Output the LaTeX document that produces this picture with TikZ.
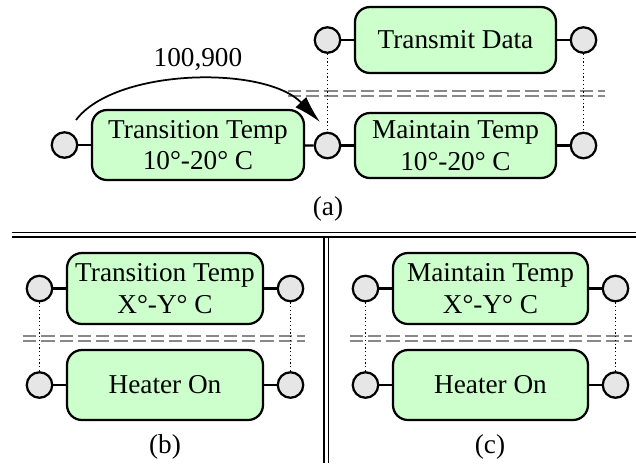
\documentclass[tikz,border=0pt]{standalone}
\usepackage{fontspec}
\setmainfont{Liberation Serif}
\usetikzlibrary{positioning, arrows.meta}
\definecolor{boxgreen}{HTML}{CCFFCC}
\definecolor{portgray}{HTML}{E6E6E6}
\definecolor{splitgray}{HTML}{888888}

\begin{document}
\begin{tikzpicture}[x=0.4pt,y=-0.4pt,node distance=5pt,
    font=\fontsize{10.9}{12.6}\selectfont,
    box/.style={draw, line width=0.9pt, fill=boxgreen, rounded corners=6pt, align=center,
      minimum width=80.4pt, minimum height=26.4pt, inner sep=2pt},
    port/.style={draw, line width=0.9pt, fill=portgray, circle, minimum size=10.2pt, inner sep=0pt},
    link/.style={line width=0.9pt},
    guide/.style={densely dotted, line width=0.5pt},
    split/.style={draw=splitgray, double, double distance=1.2pt, line width=0.8pt,
      dash pattern=on 5.3pt off 2pt},
    frame/.style={double, double distance=1.2pt, line width=0.65pt}]
  \useasboundingbox (0,0) rectangle (636,463);

  % (a)
  \draw[split] (288,93.5) -- (605,93.5);
  \node[box] (td) at (455.5,40) {Transmit Data};
  \node[box, minimum width=84.8pt, minimum height=28pt] (tt) at (198,145) {Transition Temp\\10°-20° C};
  \node[box, minimum height=26pt] (mt) at (455.5,145.5) {Maintain Temp\\10°-20° C};
  \node[port] (tdl) [left=of td] {};
  \node[port] (tdr) [right=of td] {};
  \node[port] (ttl) [left=of tt] {};
  \node[port] (mtl) [left=of mt] {};
  \node[port] (mtr) [right=of mt] {};
  \coordinate (arcS) at (76,120);
  \coordinate (arcE) at (320,122);

  \path[link] (tdl) edge (td)
              (td) edge (tdr)
              (ttl) edge (tt)
              (tt) edge (mtl)
              (mtl) edge (mt)
              (mt) edge (mtr);
  \path[guide] (tdl) edge (mtl)
               (tdr) edge (mtr);
  \draw[-{Latex[length=11pt,width=6pt]}, line width=0.7pt] (arcS)
    .. controls (115,68) and (265,65) .. node[above, pos=0.52] {100,900} (arcE);
  \node (capa) at (328,209) {(a)};

  % frame
  \draw[frame] (12,234.7) -- (636,234.7);
  \draw[frame] (326.3,237.5) -- (326.3,463);

  % (b)
  \draw[split] (23,338) -- (305,338);
  \node[box, minimum width=78.4pt, minimum height=28.4pt] (bt) at (165,288.5) {Transition Temp\\X°-Y° C};
  \node[box, minimum width=78.4pt, minimum height=28pt] (bh) at (165,385) {Heater On};
  \node[port] (btl) [left=of bt] {};
  \node[port] (btr) [right=of bt] {};
  \node[port] (bhl) [left=of bh] {};
  \node[port] (bhr) [right=of bh] {};
  \path[link] (btl) edge (bt)
              (bt) edge (btr)
              (bhl) edge (bh)
              (bh) edge (bhr);
  \path[guide] (btl) edge (bhl)
               (btr) edge (bhr);
  \node (capb) at (165,447) {(b)};

  % (c)
  \draw[split] (350,338) -- (632,338);
  \node[box, minimum width=78pt, minimum height=28.4pt] (ct) at (490.5,288.5) {Maintain Temp\\X°-Y° C};
  \node[box, minimum width=78pt, minimum height=28pt] (ch) at (490.5,385) {Heater On};
  \node[port] (ctl) [left=of ct] {};
  \node[port] (ctr) [right=of ct] {};
  \node[port] (chl) [left=of ch] {};
  \node[port] (chr) [right=of ch] {};
  \path[link] (ctl) edge (ct)
              (ct) edge (ctr)
              (chl) edge (ch)
              (ch) edge (chr);
  \path[guide] (ctl) edge (chl)
               (ctr) edge (chr);
  \node (capc) at (490,447) {(c)};
\end{tikzpicture}
\end{document}
